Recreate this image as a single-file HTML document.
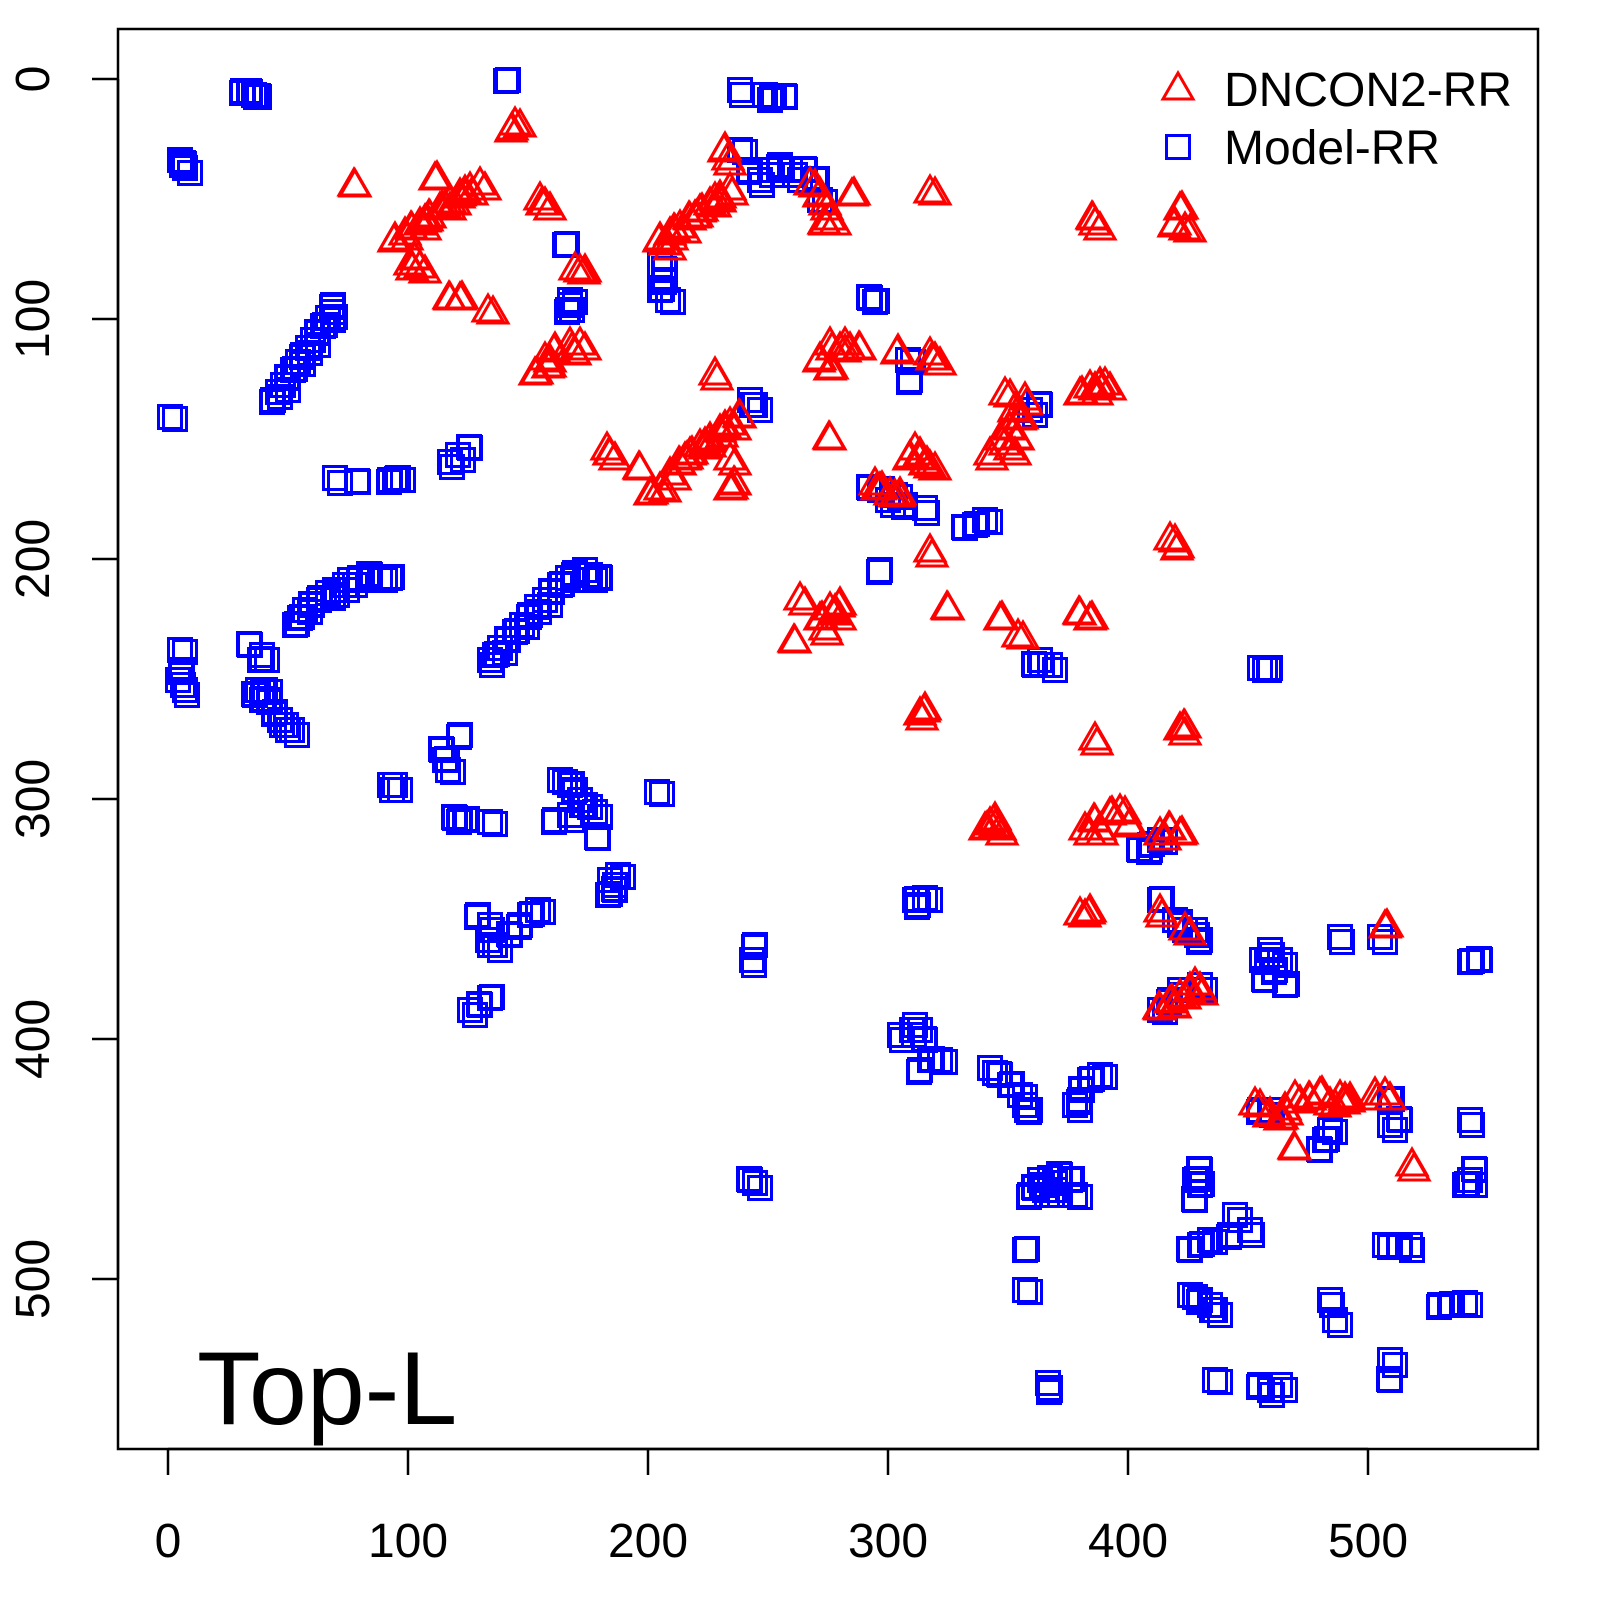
<!DOCTYPE html>
<html><head><meta charset="utf-8"><style>
html,body{margin:0;padding:0;background:#fff;}
svg{display:block;}
text{font-family:"Liberation Sans",sans-serif;}
</style></head><body>
<svg id="s" width="1600" height="1600" xmlns="http://www.w3.org/2000/svg">
<rect x="0" y="0" width="1600" height="1600" fill="#fff"/>
<defs>
<rect id="sq" x="-11.5" y="-11.5" width="23" height="23" fill="none" stroke="#0000ff" stroke-width="3"/>
<polygon id="tr" points="0,-17 15,9 -15,9" fill="none" stroke="#ff0000" stroke-width="3"/>
</defs>
<g id="pts"></g>
<rect x="118" y="29" width="1420" height="1420" fill="none" stroke="#000" stroke-width="2.5"/>
<g stroke="#000" stroke-width="2.5">
<line x1="168" y1="1449" x2="1368" y2="1449"/>
<line x1="168" y1="1449" x2="168" y2="1475"/><line x1="408" y1="1449" x2="408" y2="1475"/><line x1="648" y1="1449" x2="648" y2="1475"/><line x1="888" y1="1449" x2="888" y2="1475"/><line x1="1128" y1="1449" x2="1128" y2="1475"/><line x1="1368" y1="1449" x2="1368" y2="1475"/>
<line x1="118" y1="79" x2="118" y2="1279"/>
<line x1="118" y1="79" x2="92" y2="79"/><line x1="118" y1="319" x2="92" y2="319"/><line x1="118" y1="559" x2="92" y2="559"/><line x1="118" y1="799" x2="92" y2="799"/><line x1="118" y1="1039" x2="92" y2="1039"/><line x1="118" y1="1279" x2="92" y2="1279"/>
</g>
<g font-size="48" text-anchor="middle" fill="#000">
<text x="168" y="1557">0</text><text x="408" y="1557">100</text><text x="648" y="1557">200</text><text x="888" y="1557">300</text><text x="1128" y="1557">400</text><text x="1368" y="1557">500</text>
<text transform="translate(49,79) rotate(-90)">0</text>
<text transform="translate(49,319) rotate(-90)">100</text>
<text transform="translate(49,559) rotate(-90)">200</text>
<text transform="translate(49,799) rotate(-90)">300</text>
<text transform="translate(49,1039) rotate(-90)">400</text>
<text transform="translate(49,1279) rotate(-90)">500</text>
</g>
<use href="#tr" x="1178" y="90"/>
<use href="#sq" x="1178" y="147"/>
<text x="1224" y="106" font-size="48">DNCON2-RR</text>
<text x="1224" y="164" font-size="48">Model-RR</text>
<text x="197" y="1424" font-size="104">Top-L</text>
</svg>
<script>
var B=[[250,92],[256,97],[254,95],[243,91],[180,160],[185,168],[184,164],[506,81],[170,417],
[273,400],[278,392],[283,385],[288,378],[293,370],[298,362],[303,355],[308,348],[313,340],[318,333],[323,326],[328,318],[333,305],[333,312],
[335,478],[358,482],[395,480],[398,478],[390,480],
[450,462],[458,455],[470,448],
[295,625],[305,610],[320,598],[335,590],[350,580],[370,575],[390,578],[380,578],[360,578],[345,585],[328,593],[312,605],[300,618],
[180,650],[182,670],[185,690],[178,680],[250,645],[260,660],[265,690],[270,700],[280,720],[292,730],[255,695],[262,700],[258,690],[275,712],[286,725],[262,655],
[442,750],[445,760],[448,770],[460,735],[390,785],[395,785],
[455,818],[465,820],[490,822],[460,820],
[490,660],[500,648],[508,640],[515,632],[522,625],[530,615],[537,607],[545,600],[552,592],[560,585],[568,578],[575,573],[585,570],[590,575],[600,578],[495,655],
[560,780],[575,790],[580,800],[595,812],[598,838],[570,785],[585,805],[555,820],[570,815],
[610,880],[615,890],[608,895],[618,875],
[478,915],[490,925],[495,945],[510,935],[530,915],[538,910],[520,925],[488,940],
[470,1010],[480,1005],[490,998],
[657,792],[755,945],[752,960],[755,1183],[750,1180],
[565,245],[570,300],[568,310],[570,305],
[660,265],[665,270],[660,290],[668,300],[665,280],
[740,90],[765,95],[785,97],[772,97],[740,150],[750,170],[760,180],[790,170],[805,170],[815,180],[820,200],[780,165],[770,170],[795,175],
[870,298],[875,302],[908,360],[910,380],[750,400],[755,405],
[870,488],[880,490],[895,495],[905,505],[925,508],[888,500],
[965,528],[975,525],[985,520],[880,570],
[1040,660],[1050,665],[1035,665],
[915,900],[925,898],[918,905],
[900,1035],[915,1025],[925,1040],[930,1060],[940,1060],[920,1070],[912,1030],
[990,1068],[1000,1075],[1010,1085],[1020,1095],[1030,1110],[1025,1105],
[1075,1105],[1082,1090],[1090,1080],[1100,1075],[1080,1100],
[1040,1180],[1050,1178],[1060,1175],[1070,1180],[1075,1195],[1030,1195],[1045,1190],[1055,1190],[1035,1188],
[1025,1250],[1025,1290],[1050,1390],[1048,1383],
[1030,410],[1040,405],
[1160,900],[1175,920],[1200,940],[1195,930],[1180,925],
[1140,850],[1150,845],[1160,840],[1150,850],
[1270,950],[1280,960],[1265,980],[1285,985],[1262,960],[1275,970],
[1340,937],[1380,937],[1480,960],[1470,962],
[1260,668],[1270,668],
[1470,1120],[1470,1180],[1475,1170],[1465,1185],
[1385,1245],[1400,1245],[1410,1245],
[1390,1360],[1390,1380],
[1450,1305],[1465,1303],[1440,1305],
[1330,1300],[1335,1320],
[1195,1200],[1200,1185],[1210,1240],[1230,1235],[1250,1230],[1235,1215],
[1190,1250],[1200,1245],
[1190,1295],[1200,1300],[1210,1305],[1215,1310],
[1200,1170],[1195,1180],
[1215,1380],[1260,1385],[1270,1390],[1280,1385],
[1320,1150],[1325,1140],[1330,1130],
[1260,1110],[1270,1110],[1390,1125],[1400,1120],[1390,1100],
[1160,1010],[1170,1000],[1180,990],[1200,985]];
var R=[[355,187],[435,180],[515,125],[512,130],[540,200],[545,205],[450,300],[460,300],[488,312],
[395,240],[405,235],[420,225],[430,218],[440,210],[450,203],[460,196],[470,190],[480,185],[412,230],[425,222],[445,208],[465,193],[410,265],[420,268],[415,260],
[535,375],[545,360],[555,350],[570,345],[580,345],[575,355],[548,368],
[575,270],[585,272],[607,450],[610,455],
[640,470],[650,495],[660,490],
[660,240],[670,235],[680,228],[690,220],[700,212],[710,205],[720,198],[730,190],[665,245],[675,232],[695,218],[715,200],
[725,150],[728,160],
[670,475],[680,465],[690,455],[700,447],[710,440],[720,432],[730,425],[740,418],[685,460],[705,445],[725,428],
[715,375],[730,460],[735,485],[730,490],
[810,185],[820,195],[825,205],[830,220],[825,225],[852,196],[930,193],
[820,360],[830,345],[845,345],[860,350],[830,370],[840,350],
[898,352],[930,355],[935,360],[830,440],
[880,490],[890,495],[900,495],[875,485],
[915,450],[920,460],[925,465],[930,468],[910,458],
[930,552],
[800,600],[795,643],[820,620],[830,610],[840,605],[825,630],[835,615],
[948,610],[1000,620],[1018,637],[925,710],[920,715],
[1095,225],[1093,220],[1180,210],[1185,230],[1175,225],
[990,455],[1000,440],[1010,430],[1020,420],[1005,395],[1015,410],[1025,400],[1010,450],[1018,440],
[1080,395],[1090,388],[1100,385],[1095,390],[1105,385],
[1080,615],[1090,620],[1170,540],[1178,548],[1095,740],[1180,730],[1185,728],
[985,830],[990,825],[995,820],[1000,830],
[1085,830],[1095,822],[1110,815],[1120,812],[1130,825],[1100,830],
[1160,835],[1170,830],[1180,835],
[1080,915],[1090,912],[1160,912],[1185,930],
[1160,1010],[1170,1003],[1180,997],[1190,990],[1200,990],[1195,985],[1175,1008],
[1385,928],
[1255,1105],[1270,1115],[1285,1110],[1295,1098],[1310,1100],[1320,1095],[1340,1098],[1350,1100],[1375,1095],[1385,1095],[1295,1150],[1280,1120],[1330,1105],[1345,1102],
[1412,1166]];
var g=document.getElementById('pts'),ns='http://www.w3.org/2000/svg';
function put(x,y,id){var u=document.createElementNS(ns,'use');u.setAttribute('href','#'+id);u.setAttribute('x',x);u.setAttribute('y',y);g.appendChild(u);}
function add(a,id){a.forEach(function(p,i){put(p[0],p[1],id);var dx=(i%3)-1,dy=((i>>1)%3)-1;put(p[0]+3*dx+2,p[1]+3*dy+2,id);});}
add(B,'sq');add(R,'tr');
</script>
</body></html>
